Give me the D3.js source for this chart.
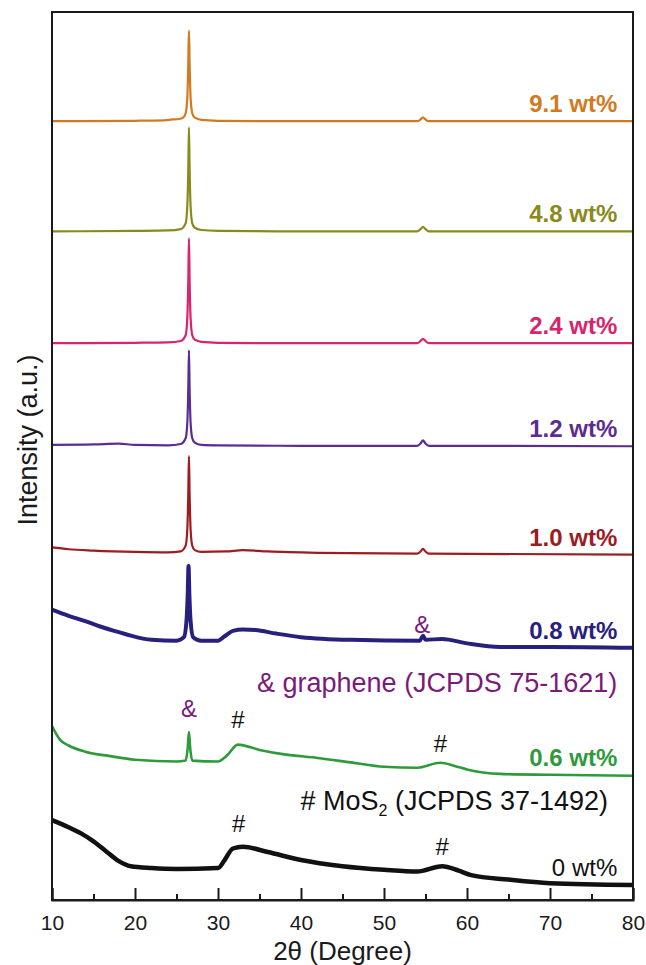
<!DOCTYPE html>
<html>
<head>
<meta charset="utf-8">
<script src="https://cdn.jsdelivr.net/npm/d3@7"></script>
<style>
  body { margin: 0; background: #fff; }
  text { font-family: "Liberation Sans", Arial, sans-serif; }
</style>
</head>
<body>
<div id="chart"></div>
<script>
// sample names, colours and vertical stacking offsets (a.u.)
const samples = ["9.1 wt%", "4.8 wt%", "2.4 wt%", "1.2 wt%", "1.0 wt%", "0.8 wt%", "0.6 wt%", "0 wt%"];
const colors = ["#d27a22", "#8a8a1c", "#d8246f", "#5c2d91", "#9c1c1f", "#27207c", "#2f9a3b", "#111111"];
const offsets = [87.7, 75.3, 62.7, 51.1, 38.9, 28.4, 14.1, 1.7];

// patterns: [2theta, intensity above own offset]
const s91 = [[10,0],[20,0.05],[23.5,0.1],[24.5,0.2],[25.3,0.25],[25.8,0.4],[26.1,0.9],[26.3,2.6],[26.42,6.5],[26.5,10.2],[26.58,6.5],[26.7,2.6],[26.9,0.9],[27.2,0.4],[28,0.15],[30,0.05],[40,0],[54,0],[54.4,0.2],[54.7,0.45],[55,0.2],[55.4,0],[80,0]];
const s48 = [[10,0],[20,0.05],[24,0.1],[25.5,0.25],[26.1,0.9],[26.3,2.8],[26.42,7],[26.5,11.7],[26.58,7],[26.7,2.8],[26.9,0.9],[27.2,0.4],[28,0.15],[30,0.05],[40,0],[54,0],[54.4,0.25],[54.7,0.5],[55,0.25],[55.4,0],[80,0]];
const s24 = [[10,0],[20,0.05],[24,0.1],[25.5,0.25],[26.1,0.9],[26.3,2.8],[26.42,7],[26.5,11.8],[26.58,7],[26.7,2.8],[26.9,0.9],[27.2,0.4],[28,0.15],[30,0.05],[40,0],[54,0],[54.4,0.25],[54.7,0.5],[55,0.25],[55.4,0],[80,0]];
const s12 = [[10,0.15],[15,0.2],[18,0.3],[20,0.15],[24,0.1],[25.5,0.25],[26.1,0.9],[26.3,2.6],[26.42,6.5],[26.5,10.8],[26.58,6.5],[26.7,2.6],[26.9,0.9],[27.2,0.4],[28,0.15],[30,0.1],[40,0.05],[54,0.05],[54.4,0.3],[54.7,0.65],[55,0.3],[55.4,0.05],[80,0]];
const s10 = [[10,0.8],[12,0.6],[15,0.45],[20,0.3],[24,0.25],[25.5,0.35],[26.1,1],[26.3,2.8],[26.42,6.8],[26.5,11.1],[26.58,6.8],[26.7,2.8],[26.9,1],[27.2,0.5],[28,0.3],[31,0.35],[33,0.5],[36,0.35],[42,0.2],[54,0.1],[54.4,0.35],[54.7,0.65],[55,0.35],[55.4,0.1],[80,0]];
const s08 = [[10,4.3],[12,3.6],[14,3],[15.8,2.4],[17.5,1.9],[19,1.5],[22,0.9],[25,0.8],[25.9,1.2],[26.2,3],[26.35,6],[26.45,9.2],[26.55,6],[26.7,3],[27,1.2],[28,0.8],[30,0.8],[30.8,1.3],[31.8,1.9],[33,2.05],[34.5,2],[37,1.6],[40,1.2],[46,0.9],[54.3,0.8],[54.7,1.35],[55,0.9],[57,1],[60,0.5],[64,0.1],[70,0.1],[80,0]];
const s06 = [[10,5.5],[11,3.9],[12,3.3],[14,2.6],[17,2.1],[20,1.7],[25,1.5],[26.1,1.6],[26.35,3],[26.5,4.8],[26.65,3],[26.9,1.6],[30,1.5],[31,2.1],[32.4,3.4],[35,2.8],[38,2.3],[42,1.9],[46,1.4],[50,0.9],[54,0.8],[56.8,1.35],[58.5,1],[60,0.6],[64,0.1],[70,0],[80,-0.1]];
const s00 = [[10,7.3],[12,6.5],[13.5,5.8],[15,4.9],[16.5,3.8],[18,2.7],[19.5,2.1],[22,1.9],[25,1.8],[30,1.9],[30.8,2.8],[31.8,4.1],[33,4.3],[36,3.7],[40,2.8],[45,2.1],[50,1.7],[54,1.5],[57,2.1],[59,1.6],[60.5,1.1],[65,0.6],[70,0.2],[80,0]];
const patterns = [s91, s48, s24, s12, s10, s08, s06, s00];
const widths = [2.2, 2.2, 2.2, 2.2, 2.2, 4, 2.6, 4.5];
const boldLabel = [true, true, true, true, true, true, true, false];

// peak markers: [2theta, a.u., symbol, colour]
const markers = [[54.6, 30.1, "&", "#7a1a7a"], [26.5, 20.6, "&", "#7a1a7a"], [32.4, 19.4, "#", "#111"], [56.8, 16.7, "#", "#111"], [32.5, 7.7, "#", "#111"], [57, 5.1, "#", "#111"]];

const xTicks = [10, 20, 30, 40, 50, 60, 70, 80];
const xMinor = [15, 25, 35, 45, 55, 65, 75];

const W = 646, H = 965;
const margin = {top: 12, right: 13, bottom: 65, left: 52};

const svg = d3.select("#chart").append("svg")
  .attr("width", W)
  .attr("height", H);

const x = d3.scaleLinear().domain([10, 80]).range([margin.left, W - margin.right]);
const y = d3.scaleLinear().domain([0, 100]).range([H - margin.bottom, margin.top]);

// traces
patterns.forEach((p, i) => {
  const line = d3.line()
    .x(d => x(d[0]))
    .y(d => y(d[1] + offsets[i]))
    .curve(d3.curveMonotoneX);
  svg.append("path")
    .datum(p)
    .attr("d", line)
    .attr("fill", "none")
    .attr("stroke", colors[i])
    .attr("stroke-width", widths[i])
    .attr("stroke-linejoin", "round");

  svg.append("text")
    .attr("x", x(78.1))
    .attr("y", y(offsets[i]) - 9)
    .attr("text-anchor", "end")
    .attr("font-size", "24px")
    .attr("font-weight", boldLabel[i] ? "bold" : "normal")
    .attr("fill", colors[i])
    .text(samples[i]);
});

// peak markers
svg.selectAll(".mk").data(markers).enter().append("text")
  .attr("x", d => x(d[0]))
  .attr("y", d => y(d[1]))
  .attr("text-anchor", "middle")
  .attr("font-size", "24px")
  .attr("fill", d => d[3])
  .text(d => d[2]);

// legend notes
svg.append("text")
  .attr("x", x(78.1)).attr("y", y(23.4))
  .attr("text-anchor", "end")
  .attr("font-size", "27px")
  .attr("fill", "#7a1a7a")
  .text("& graphene (JCPDS 75-1621)");

const mos = svg.append("text")
  .attr("x", x(77)).attr("y", y(10.1))
  .attr("text-anchor", "end")
  .attr("font-size", "27px")
  .attr("fill", "#111");
mos.append("tspan").text("# MoS");
mos.append("tspan").attr("font-size", "16px").attr("dy", "6").text("2");
mos.append("tspan").attr("dy", "-6").text(" (JCPDS 37-1492)");

// frame
svg.append("rect")
  .attr("x", x(10)).attr("y", y(100))
  .attr("width", x(80) - x(10))
  .attr("height", y(0) - y(100))
  .attr("fill", "none")
  .attr("stroke", "#1a1a1a")
  .attr("stroke-width", 2);

// bottom axis, ticks pointing inward
const axMinor = svg.append("g")
  .attr("transform", `translate(0,${y(0)})`)
  .call(d3.axisBottom(x).tickValues(xMinor).tickSize(-6).tickFormat(""));
axMinor.select(".domain").remove();
axMinor.selectAll("line").attr("stroke", "#1a1a1a").attr("stroke-width", 2);

const axMajor = svg.append("g")
  .attr("transform", `translate(0,${y(0)})`)
  .call(d3.axisBottom(x).tickValues(xTicks).tickSize(-12).tickPadding(15).tickFormat(d3.format("d")));
axMajor.select(".domain").attr("stroke", "#1a1a1a").attr("stroke-width", 2);
axMajor.selectAll("line").attr("stroke", "#1a1a1a").attr("stroke-width", 2);
axMajor.selectAll("text")
  .attr("font-size", "21px")
  .attr("font-family", "Liberation Sans, Arial, sans-serif")
  .attr("fill", "#1a1a1a");

// axis titles
svg.append("text")
  .attr("x", (x(10) + x(80)) / 2)
  .attr("y", 960)
  .attr("text-anchor", "middle")
  .attr("font-size", "26px")
  .attr("fill", "#1a1a1a")
  .text("2θ (Degree)");

svg.append("text")
  .attr("transform", `translate(37,${440}) rotate(-90)`)
  .attr("text-anchor", "middle")
  .attr("font-size", "27px")
  .attr("fill", "#1a1a1a")
  .text("Intensity (a.u.)");
</script>
</body>
</html>
